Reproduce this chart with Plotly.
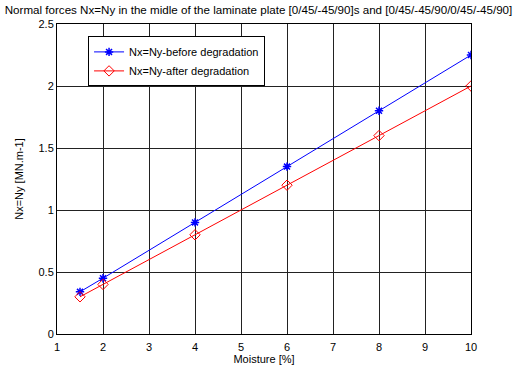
import plotly.graph_objects as go

moisture = [1.5, 2, 4, 6, 8, 10]
before = [0.34, 0.45, 0.9, 1.35, 1.8, 2.25]
after = [0.3, 0.4, 0.8, 1.2, 1.6, 2.0]
x_ticks = [1, 2, 3, 4, 5, 6, 7, 8, 9, 10]
y_ticks = [0, 0.5, 1, 1.5, 2, 2.5]
y_tick_text = ["0", "0.5", "1", "1.5", "2", "2.5"]

fig = go.Figure()
fig.add_trace(go.Scatter(x=moisture, y=before, mode="lines+markers",
                         name="Nx=Ny-before degradation",
                         line=dict(color="#0000ff", width=1),
                         marker=dict(symbol="asterisk", size=7, color="#0000ff",
                                     line=dict(color="#0000ff", width=1.5))))
fig.add_trace(go.Scatter(x=moisture, y=after, mode="lines+markers",
                         name="Nx=Ny-after degradation",
                         line=dict(color="#ff0000", width=1),
                         marker=dict(symbol="diamond-open", size=8, color="#ff0000",
                                     line=dict(color="#ff0000", width=1))))

font = "Liberation Sans, Arial, sans-serif"
fig.update_layout(
    width=517, height=376,
    margin=dict(l=57, r=46, t=24, b=38),
    paper_bgcolor="white", plot_bgcolor="white",
    font=dict(family=font, size=11, color="black"),
    title=dict(text="Normal forces Nx=Ny in the midle of the laminate plate [0/45/-45/90]s and [0/45/-45/90/0/45/-45/90]",
               x=0.5, xref="container", xanchor="center", y=1, yref="container", yanchor="top",
               pad=dict(t=6),
               font=dict(size=11.6, family=font)),
    showlegend=True,
    legend=dict(x=0.075, y=0.96, xanchor="left", yanchor="top",
                bordercolor="black", borderwidth=1, bgcolor="white",
                font=dict(size=11, family=font), tracegroupgap=0),
    xaxis=dict(range=[1, 10], tickvals=x_ticks, showgrid=True, gridcolor="#222",
               gridwidth=1, zeroline=False, showline=True, linecolor="black",
               mirror=True, ticks="", tickfont=dict(size=11), ticklabelstandoff=3,
               title=dict(text="Moisture [%]", font=dict(size=11), standoff=3)),
    yaxis=dict(range=[0, 2.5], tickvals=y_ticks, ticktext=y_tick_text, showgrid=True,
               gridcolor="#222", gridwidth=1, zeroline=False, showline=True,
               linecolor="black", mirror=True, ticks="", tickfont=dict(size=11),
               title=dict(text="Nx=Ny [MN.m-1]", font=dict(size=11), standoff=12)),
)
fig.write_html("out.html")
